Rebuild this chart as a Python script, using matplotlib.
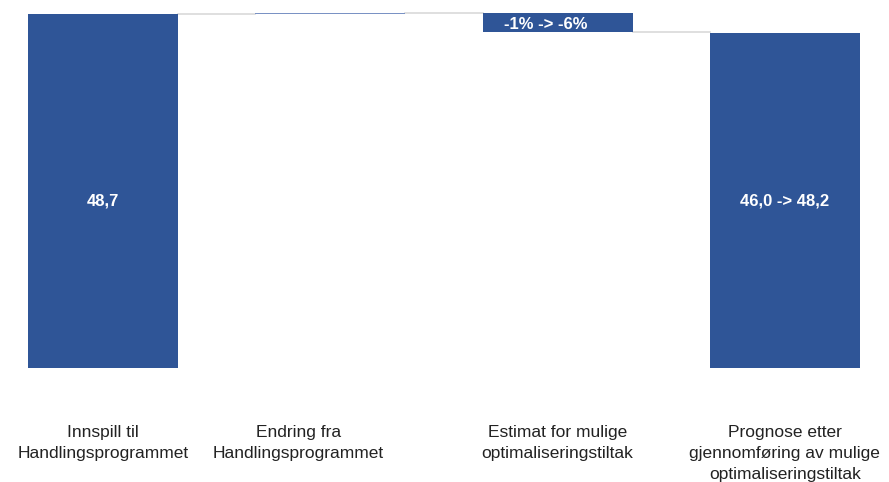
import matplotlib.pyplot as plt
import matplotlib.transforms as mtransforms
import numpy as np

plt.rcParams['font.family'] = ['Liberation Sans', 'DejaVu Sans']

categories = ['Innspill til\nHandlingsprogrammet',
              'Endring fra\nHandlingsprogrammet',
              'Estimat for mulige\noptimaliseringstiltak',
              'Prognose etter\ngjennomføring av mulige\noptimaliseringstiltak']
changes = [48.7, 0.15, -2.7, 46.0]
is_total = [True, False, False, True]
bar_labels = ['48,7', '', '-1% -> -6%', '46,0 -> 48,2']

color = '#2f5597'
x = np.arange(len(categories))
width = 0.66

# waterfall bottoms / heights
bottoms, heights, tops = [], [], []
running = 0.0
for v, tot in zip(changes, is_total):
    if tot:
        bottoms.append(0)
        heights.append(v)
        running = v
    else:
        start = running
        running = running + v
        bottoms.append(min(start, running))
        heights.append(abs(v))
    tops.append(running)

fig = plt.figure(figsize=(8.89, 4.82), dpi=100)
ax = fig.add_axes([0, (482 - 368) / 482, 1, 368 / 482])

colors = [color if (tot or abs(v) > 1) else '#7a92c4' for v, tot in zip(changes, is_total)]
ax.bar(x, heights, bottom=bottoms, width=width, color=colors, linewidth=0)

# connector lines
for i in range(len(x) - 1):
    ax.plot([x[i] + width / 2, x[i + 1] - width / 2], [tops[i], tops[i]],
            color='#d9d9d9', lw=1.2, zorder=0)

# labels inside bars
mid = min(h for h, t in zip(heights, is_total) if t) / 2
for i, lab in enumerate(bar_labels):
    if not lab:
        continue
    if is_total[i]:
        ypos, xpos = mid, x[i]
    else:
        ypos = bottoms[i] + heights[i] / 2 - 0.3
        xpos = x[i] - 0.05
    ax.text(xpos, ypos, lab, ha='center', va='center', color='white',
            fontsize=12, fontweight='bold')

ax.set_xlim(-0.453, 3.458)
ax.set_ylim(0, 50.6)
ax.set_xticks(x)
ax.set_xticklabels(categories, fontsize=12.5, color='#222222', linespacing=1.5)
ax.tick_params(axis='x', length=0, pad=41)
# second category label sits a little left of its bar
lbl = ax.get_xticklabels()[1]
lbl.set_transform(lbl.get_transform() + mtransforms.ScaledTranslation(-0.32, 0, fig.dpi_scale_trans))
ax.set_yticks([])
for s in ax.spines.values():
    s.set_visible(False)

plt.savefig('out.png', dpi=100)
